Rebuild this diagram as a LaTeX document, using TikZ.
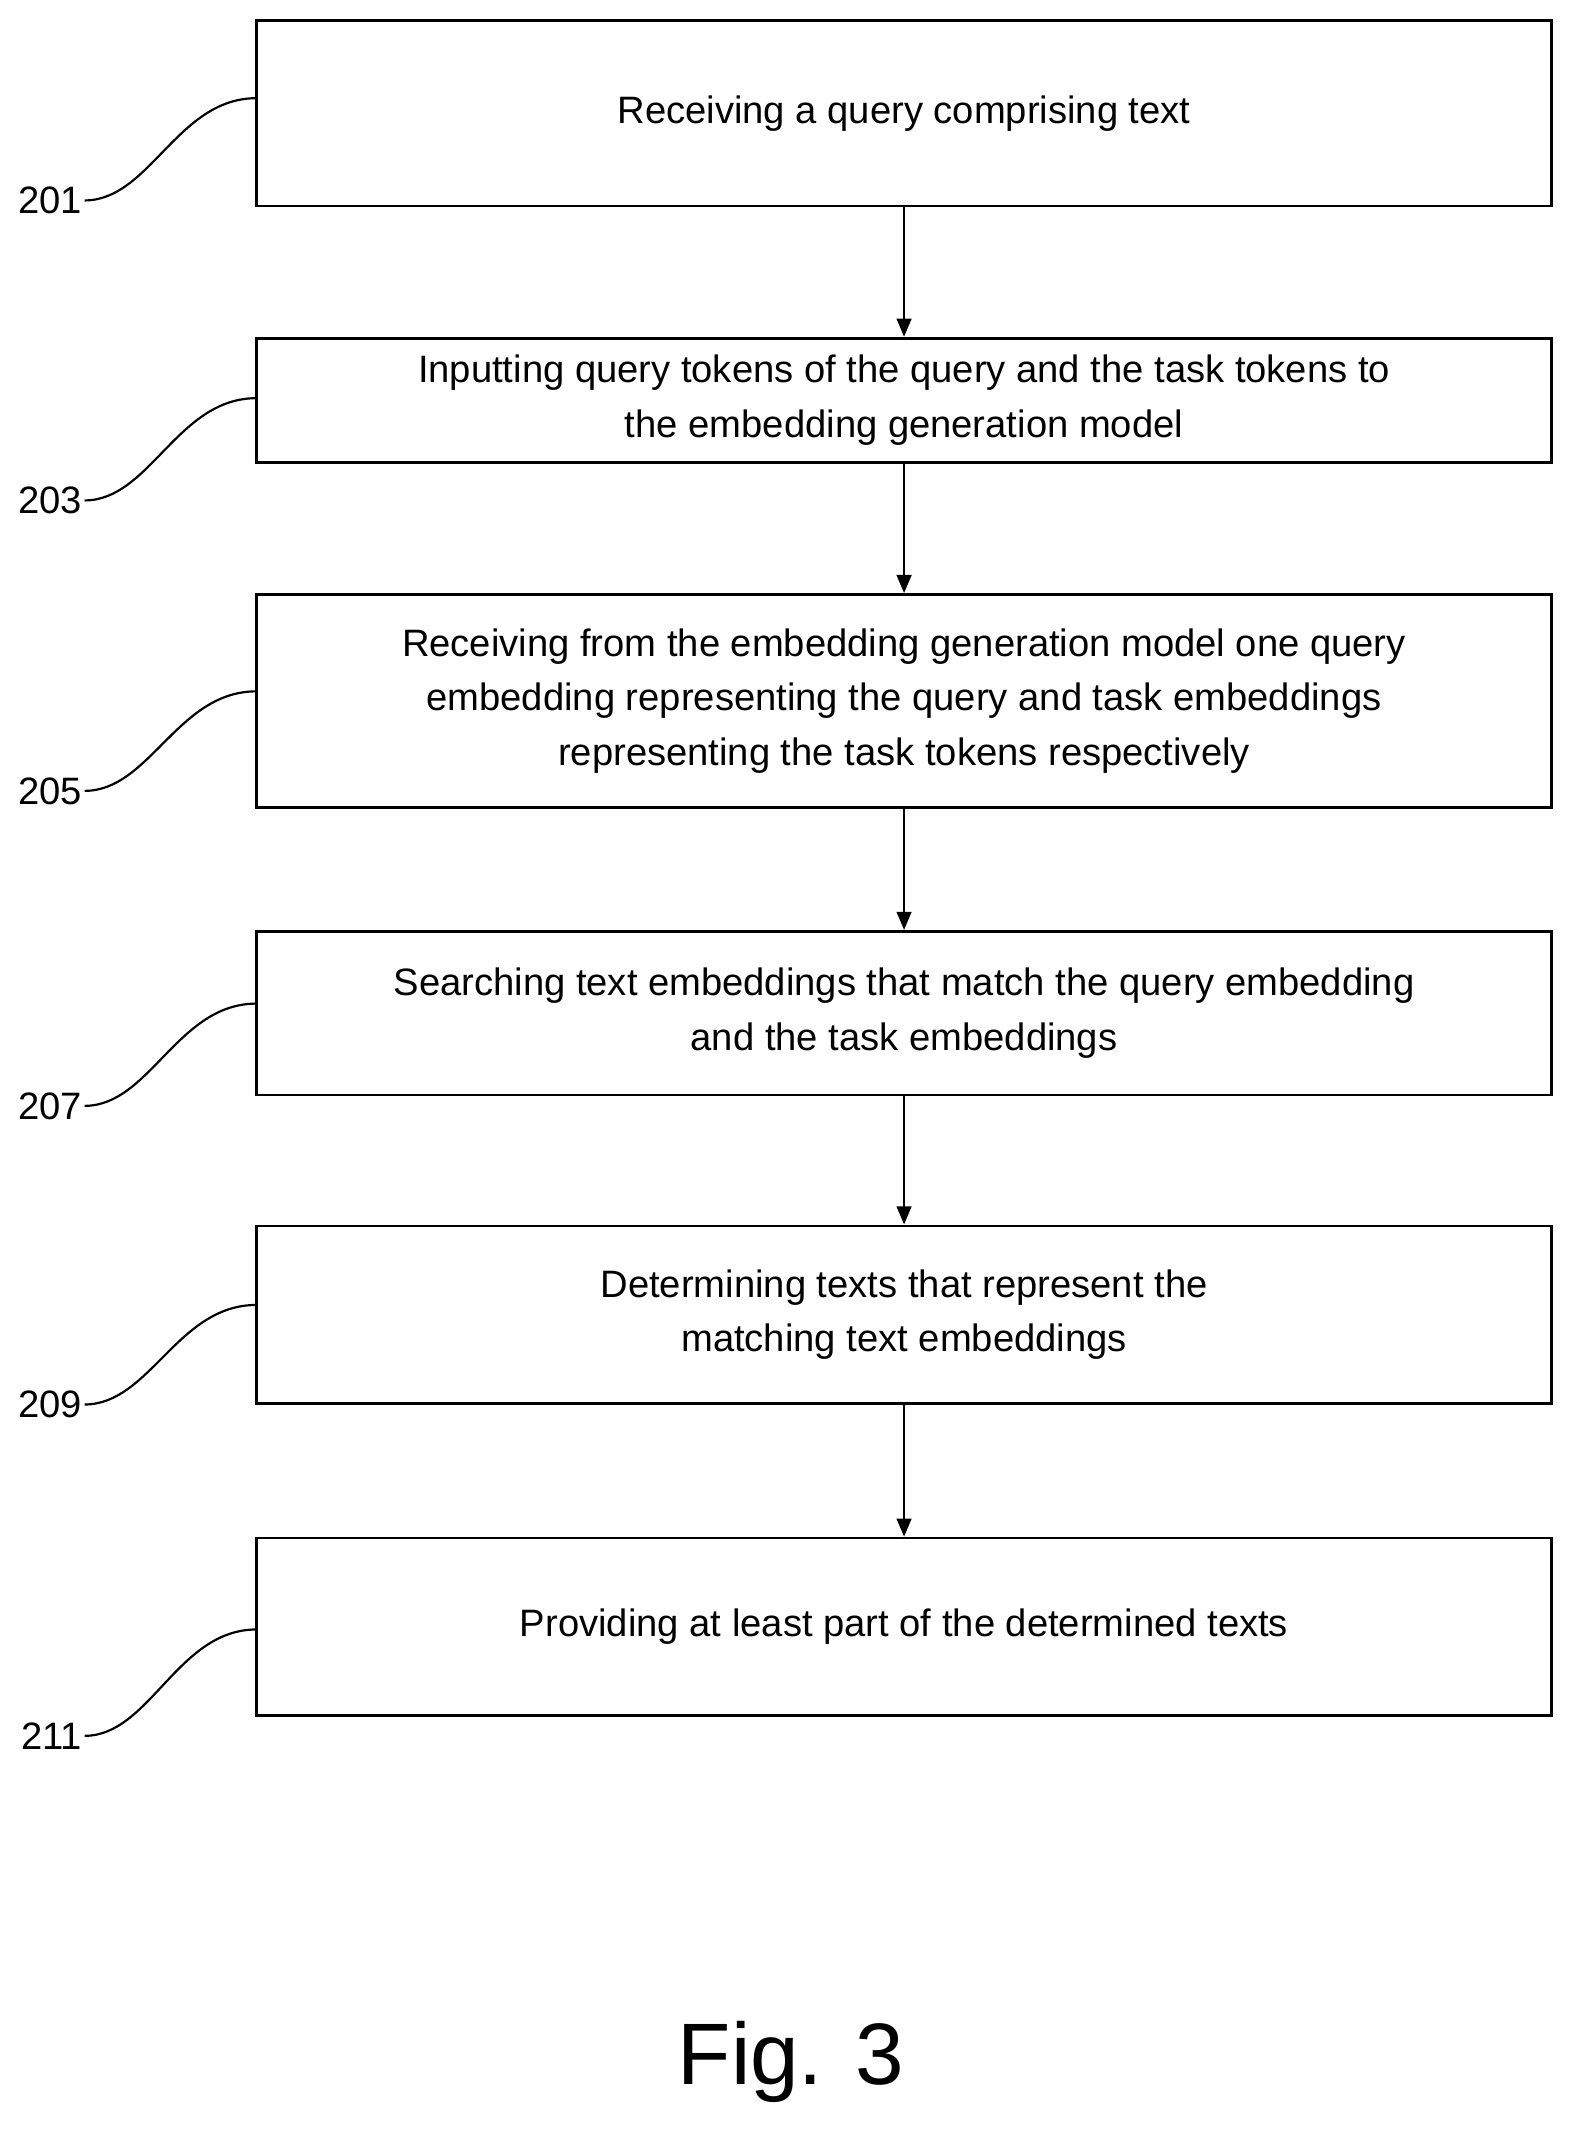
\documentclass[tikz,border=0pt]{standalone}
\usepackage{fontspec}
\setmainfont{Liberation Sans}
\usetikzlibrary{arrows.meta}
\tikzset{every picture/.style={line width=0.75pt}}
\tikzset{stepbox/.style={draw,line width=1.5pt,minimum width=950*0.75pt,inner sep=0pt,align=center,font=\fontsize{21}{30}\selectfont},
  flow/.style={line width=1.5pt,-{Triangle[length=10pt,width=8pt]}},
  refnum/.style={font=\fontsize{21}{24}\selectfont,inner sep=1pt},
  lead/.style={line width=1.2pt}}

\begin{document}
\begin{tikzpicture}[x=0.75pt,y=0.75pt,yscale=-1,xscale=1]
\useasboundingbox (0,0) rectangle (1160,1576);

% Step boxes
\node[stepbox,minimum height=136*0.75pt] (s201) at (663,83) {Receiving a query comprising text};
\node[stepbox,minimum height=91*0.75pt] (s203) at (663,293.5) {Inputting query tokens of the query and the task tokens to\\the embedding generation model};
\node[stepbox,minimum height=156*0.75pt] (s205) at (663,514) {Receiving from the embedding generation model one query\\embedding representing the query and task embeddings\\representing the task tokens respectively};
\node[stepbox,minimum height=120*0.75pt] (s207) at (663,743) {Searching text embeddings that match the query embedding\\and the task embeddings};
\node[stepbox,minimum height=130*0.75pt] (s209) at (663,964) {Determining texts that represent the\\matching text embeddings};
\node[stepbox,minimum height=130*0.75pt] (s211) at (663,1193) {Providing at least part of the determined texts};

% Arrows
\draw[flow] (s201) -- (s203);
\draw[flow] (s203) -- (s205);
\draw[flow] (s205) -- (s207);
\draw[flow] (s207) -- (s209);
\draw[flow] (s209) -- (s211);

% Reference numerals
\foreach \n/\y/\t in {201/147/72, 203/367/292, 205/580/507, 207/811/736, 209/1030/957, 211/1273/1195}{
  \node[refnum,anchor=east] (r\n) at (62,\y) {\n};
  \coordinate (e\n) at (188,\t);
  \draw[lead] (r\n.east) .. controls (110,\y) and (130,\t) .. (e\n);
}

% Text Node
\node[font=\fontsize{48}{52}\selectfont] (fig) at (580,1512) {Fig. 3};

\end{tikzpicture}
\end{document}
